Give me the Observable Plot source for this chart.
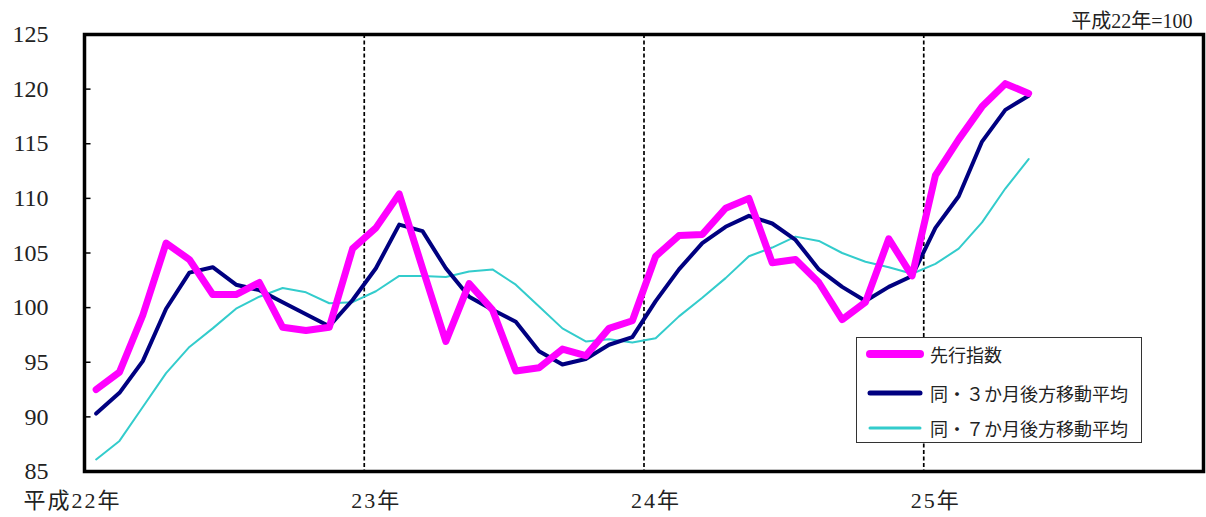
<!DOCTYPE html>
<html lang="ja">
<head>
<meta charset="utf-8">
<script src="https://cdn.jsdelivr.net/npm/d3@7"></script>
<script src="https://cdn.jsdelivr.net/npm/@observablehq/plot@0.6"></script>
<style>
  html, body { margin: 0; padding: 0; background: #fff; }
  #wrap { position: relative; width: 1206px; height: 517px; }
  #legend { position: absolute; left: 856px; top: 337px; width: 286px; height: 106px;
    border: 1px solid #333; background: #fff; box-sizing: border-box; }
  .row { position: absolute; left: 0; height: 24px; display: flex; align-items: center;
    font-family: "Noto Sans CJK JP", sans-serif; font-size: 18px; color: #222; }
  .row svg { margin-left: 9px; margin-right: 6px; }
</style>
</head>
<body>
<div id="wrap"><div id="chart"></div><div id="legend"></div></div>
<script>
// ---- data (monthly, Jan 平成22年 .. May 平成25年) ----
const seriesNames = ["先行指数", "同・３か月後方移動平均", "同・７か月後方移動平均"];
const seriesColors = ["#FF00FF", "#000080", "#33CCCC"];
const seriesWidths = [7, 4, 2];

const leading = [
  92.5, 94.1, 99.3, 105.9, 104.4, 101.2, 101.2, 102.3, 98.2, 97.9, 98.2, 105.4,
  107.3, 110.4, 103.6, 96.9, 102.2, 99.8, 94.2, 94.5, 96.2, 95.6, 98.1, 98.8,
  104.7, 106.6, 106.7, 109.1, 110.0, 104.1, 104.4, 102.3, 98.9, 100.5, 106.3, 102.9,
  112.1, 115.4, 118.4, 120.5, 119.6
];
const ma3 = [
  90.3, 92.2, 95.1, 99.9, 103.2, 103.7, 102.1, 101.6, 100.5, 99.4, 98.3, 100.7,
  103.6, 107.6, 107.0, 103.6, 101.0, 99.8, 98.7, 96.0, 94.8, 95.3, 96.6, 97.3,
  100.6, 103.5, 105.9, 107.4, 108.4, 107.7, 106.2, 103.5, 101.9, 100.6, 101.9, 102.9,
  107.3, 110.2, 115.2, 118.1, 119.4
];
const ma7 = [
  86.1, 87.8, 90.9, 94.0, 96.4, 98.1, 99.9, 101.0, 101.8, 101.4, 100.4, 100.5,
  101.5, 102.9, 102.9, 102.8, 103.3, 103.5, 102.1, 100.1, 98.1, 96.9, 97.1, 96.8,
  97.2, 99.2, 100.9, 102.7, 104.7, 105.5, 106.5, 106.1, 105.0, 104.2, 103.7, 103.1,
  104.0, 105.4, 107.8, 110.9, 113.6
];

const yTicks = [85, 90, 95, 100, 105, 110, 115, 120, 125];
const yearStarts = [0, 12, 24, 36];
const yearLabels = ["平成22年", "23年", "24年", "25年"];
const yearBreaks = [12, 24, 36];
const baseNote = "平成22年=100";

// ---- build ----
const allSeries = [leading, ma3, ma7];
const drawOrder = [2, 1, 0];
const rowsFor = (vals) => vals.map((v, i) => ({ m: i + 0.5, v }));

const serif = "'Liberation Serif', 'Noto Sans CJK JP', serif";

const chart = Plot.plot({
  width: 1206,
  height: 517,
  marginLeft: 84,
  marginRight: 3,
  marginTop: 34,
  marginBottom: 46,
  x: { domain: [0, 48] },
  y: { domain: [85, 125] },
  style: { background: "#fff", color: "#222", fontFamily: serif },
  marks: [
    Plot.ruleX(yearBreaks, { stroke: "#000", strokeWidth: 1.7, strokeDasharray: "4,2.5" }),
    Plot.ruleY(yTicks, { x1: 0, x2: 0.28, stroke: "#000", strokeWidth: 1.5 }),
    ...drawOrder.map(k => Plot.line(rowsFor(allSeries[k]), {
      x: "m", y: "v", stroke: seriesColors[k], strokeWidth: seriesWidths[k],
      strokeLinejoin: "round", strokeLinecap: "round"
    })),
    Plot.axisY({ ticks: yTicks, tickSize: 0, tickPadding: 36, fontSize: 24, label: null,
      fontFamily: "'Liberation Serif', serif" }),
    Plot.axisX({ ticks: yearStarts, tickSize: 0, tickPadding: 21, fontSize: 22, label: null,
      textAnchor: "end", dx: 37,
      tickFormat: (d) => yearLabels[yearStarts.indexOf(d)] }),
    Plot.frame({ stroke: "#000", strokeWidth: 3.5 }),
    Plot.text([baseNote], { frameAnchor: "top-right", dx: -11, dy: -21, textAnchor: "end",
      fontSize: 20, text: d => d })
  ]
});
d3.select(chart).selectAll('[aria-label="x-axis tick label"] text').attr("letter-spacing", "2px");
document.getElementById("chart").appendChild(chart);

// ---- legend ----
const legend = document.getElementById("legend");
const rowTops = [4, 43, 78];
const swatchWidths = [8, 5, 3];
seriesNames.forEach((name, k) => {
  const row = document.createElement("div");
  row.className = "row";
  row.style.top = rowTops[k] + "px";
  row.innerHTML = `<svg width="58" height="12"><line x1="4" y1="6" x2="54" y2="6" stroke="${seriesColors[k]}" stroke-width="${swatchWidths[k]}" stroke-linecap="round"/></svg><span>${name}</span>`;
  legend.appendChild(row);
});
</script>
</body>
</html>
